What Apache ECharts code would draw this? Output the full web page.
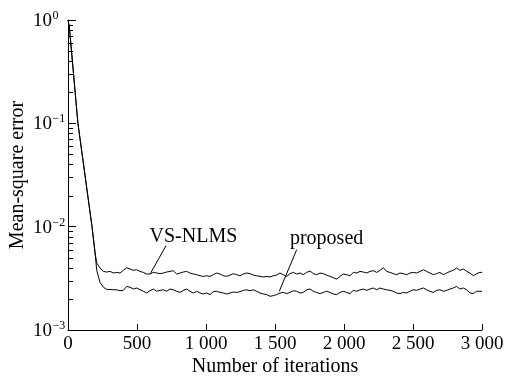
<!DOCTYPE html>
<html>
<head>
<meta charset="utf-8">
<script src="https://cdn.jsdelivr.net/npm/echarts@6/dist/echarts.min.js"></script>
<style>
  html, body { margin: 0; padding: 0; background: #fff; }
  #chart { width: 509px; height: 376px; }
</style>
</head>
<body>
<div id="chart"></div>
<script>
// Iteration index shared by both learning curves
const iterations = [
  0, 10, 72, 174, 196,
  208, 232, 256, 280, 305, 329, 353, 377, 401, 425,
  450, 474, 498, 522, 546, 570, 594, 619, 643, 667,
  691, 715, 739, 763, 788, 812, 836, 860, 884, 908,
  933, 957, 981, 1005, 1029, 1053, 1077, 1102, 1126, 1150,
  1174, 1198, 1222, 1246, 1271, 1295, 1319, 1343, 1367, 1391,
  1416, 1440, 1464, 1488, 1512, 1536, 1560, 1585, 1609, 1633,
  1657, 1681, 1705, 1729, 1754, 1778, 1802, 1826, 1850, 1874,
  1899, 1923, 1947, 1971, 1995, 2019, 2043, 2068, 2092, 2116,
  2140, 2164, 2188, 2212, 2237, 2261, 2285, 2309, 2333, 2357,
  2382, 2406, 2430, 2454, 2478, 2502, 2526, 2551, 2575, 2599,
  2623, 2647, 2671, 2695, 2720, 2744, 2768, 2792, 2816, 2840,
  2865, 2889, 2913, 2937, 2961, 2985, 3000
];

// Mean-square error of VS-NLMS
const vsNlms = [
  1.0, 0.85, 0.1, 0.01, 0.0056,
  0.00445, 0.00398, 0.00369, 0.00364, 0.00369, 0.00356, 0.00361, 0.00356, 0.00378, 0.00400,
  0.00389, 0.00378, 0.00383, 0.00369, 0.00361, 0.00348, 0.00348, 0.00361, 0.00356, 0.00351,
  0.00356, 0.00364, 0.00369, 0.00375, 0.00348, 0.00356, 0.00364, 0.00369, 0.00356, 0.00348,
  0.00343, 0.00335, 0.00330, 0.00335, 0.00330, 0.00343, 0.00356, 0.00348, 0.00335, 0.00330,
  0.00340, 0.00351, 0.00343, 0.00335, 0.00348, 0.00356, 0.00351, 0.00340, 0.00335, 0.00330,
  0.00326, 0.00330, 0.00326, 0.00335, 0.00340, 0.00356, 0.00343, 0.00330, 0.00351, 0.00361,
  0.00348, 0.00356, 0.00343, 0.00361, 0.00372, 0.00351, 0.00343, 0.00356, 0.00351, 0.00340,
  0.00330, 0.00321, 0.00311, 0.00330, 0.00348, 0.00343, 0.00335, 0.00361, 0.00356, 0.00369,
  0.00364, 0.00356, 0.00369, 0.00375, 0.00361, 0.00378, 0.00400, 0.00369, 0.00361, 0.00351,
  0.00343, 0.00356, 0.00351, 0.00343, 0.00356, 0.00361, 0.00356, 0.00369, 0.00383, 0.00369,
  0.00356, 0.00343, 0.00351, 0.00361, 0.00343, 0.00356, 0.00369, 0.00378, 0.00398, 0.00378,
  0.00389, 0.00369, 0.00356, 0.00335, 0.00351, 0.00361, 0.00361
];

// Mean-square error of the proposed algorithm
const proposed = [
  1.0, 0.85, 0.1, 0.01, 0.0056,
  0.00378, 0.00289, 0.00260, 0.00247, 0.00247, 0.00245, 0.00245, 0.00240, 0.00242, 0.00264,
  0.00259, 0.00249, 0.00255, 0.00245, 0.00237, 0.00228, 0.00240, 0.00249, 0.00237, 0.00242,
  0.00245, 0.00237, 0.00249, 0.00245, 0.00237, 0.00231, 0.00242, 0.00249, 0.00237, 0.00228,
  0.00237, 0.00228, 0.00223, 0.00228, 0.00220, 0.00235, 0.00237, 0.00231, 0.00228, 0.00223,
  0.00228, 0.00233, 0.00231, 0.00235, 0.00242, 0.00245, 0.00240, 0.00245, 0.00237, 0.00228,
  0.00223, 0.00220, 0.00212, 0.00215, 0.00220, 0.00228, 0.00231, 0.00225, 0.00231, 0.00240,
  0.00237, 0.00228, 0.00231, 0.00245, 0.00249, 0.00237, 0.00231, 0.00225, 0.00231, 0.00237,
  0.00231, 0.00223, 0.00220, 0.00231, 0.00237, 0.00231, 0.00225, 0.00242, 0.00237, 0.00245,
  0.00249, 0.00242, 0.00249, 0.00255, 0.00245, 0.00255, 0.00249, 0.00245, 0.00242, 0.00237,
  0.00228, 0.00225, 0.00231, 0.00228, 0.00237, 0.00245, 0.00242, 0.00249, 0.00255, 0.00245,
  0.00237, 0.00231, 0.00242, 0.00245, 0.00237, 0.00242, 0.00249, 0.00255, 0.00264, 0.00249,
  0.00255, 0.00245, 0.00228, 0.00225, 0.00237, 0.00237, 0.00237
];

// Axis tick labels
const xTickLabels = ['0', '500', '1 000', '1 500', '2 000', '2 500', '3 000'];
const yTickValues = [1, 0.1, 0.01, 0.001];
const yExponents = ['0', '\u22121', '\u22122', '\u22123'];
const minorTickValues = [
  0.002, 0.003, 0.004, 0.005, 0.006, 0.007, 0.008, 0.009,
  0.02, 0.03, 0.04, 0.05, 0.06, 0.07, 0.08, 0.09,
  0.2, 0.3, 0.4, 0.5, 0.6, 0.7, 0.8, 0.9
];

// Curve annotations: [iteration, mse] anchors
const vsNote = { text: 'VS-NLMS', at: [909, 0.0080], from: [599, 0.00356], to: [710, 0.00654] };
const propNote = { text: 'proposed', at: [1874, 0.00765], from: [1531, 0.00237], to: [1657, 0.00598] };

const FONT = '"Liberation Serif", "Times New Roman", serif';
const BLACK = '#000';

const chart = echarts.init(document.getElementById('chart'), null, { renderer: 'canvas' });

function noteMarks(note) {
  return {
    markLine: {
      silent: true,
      symbol: 'none',
      animation: false,
      lineStyle: { color: BLACK, width: 1, type: 'solid' },
      label: { show: false },
      data: [[{ coord: note.from }, { coord: note.to }]]
    },
    markPoint: {
      silent: true,
      animation: false,
      symbol: 'circle',
      symbolSize: 0,
      label: {
        show: true,
        position: 'inside',
        formatter: note.text,
        color: BLACK,
        fontFamily: FONT,
        fontSize: 20
      },
      data: [{ coord: note.at }]
    }
  };
}

function curve(name, values, note) {
  return Object.assign({
    name: name,
    type: 'line',
    data: iterations.map((x, i) => [x, values[i]]),
    showSymbol: false,
    symbol: 'none',
    lineStyle: { color: BLACK, width: 1 },
    animation: false,
    z: 2
  }, noteMarks(note));
}

chart.setOption({
  animation: false,
  backgroundColor: '#fff',
  grid: { left: 68, right: 27, top: 20, bottom: 46, containLabel: false, outerBoundsMode: 'none' },
  xAxis: {
    type: 'value',
    min: 0,
    max: 3000,
    interval: 500,
    name: 'Number of iterations',
    nameLocation: 'middle',
    nameGap: 27,
    nameMoveOverlap: false,
    nameTextStyle: { color: BLACK, fontFamily: FONT, fontSize: 20 },
    axisLine: { show: true, onZero: false, lineStyle: { color: BLACK, width: 1 } },
    axisTick: { show: true, inside: true, length: 6, lineStyle: { color: BLACK } },
    axisLabel: {
      color: BLACK, fontFamily: FONT, fontSize: 19, margin: 5,
      formatter: (v) => xTickLabels[Math.round(v / 500)]
    },
    splitLine: { show: false }
  },
  yAxis: {
    type: 'log',
    logBase: 10,
    min: 0.001,
    max: 1,
    name: 'Mean-square error',
    nameLocation: 'middle',
    nameGap: 40,
    nameRotate: 90,
    nameMoveOverlap: false,
    nameTextStyle: { color: BLACK, fontFamily: FONT, fontSize: 20 },
    axisLine: { show: true, lineStyle: { color: BLACK, width: 1 } },
    axisTick: { show: true, inside: true, length: 8, lineStyle: { color: BLACK } },
    axisLabel: { show: false },
    splitLine: { show: false }
  },
  series: [
    curve('VS-NLMS', vsNlms, vsNote),
    curve('proposed', proposed, propNote),
    {
      // minor decade ticks (2..9) on the log axis
      name: 'minor ticks',
      type: 'custom',
      silent: true,
      animation: false,
      clip: false,
      z: 3,
      data: minorTickValues.map(v => [0, v]),
      renderItem: (params, api) => {
        const p = api.coord([0, api.value(1)]);
        const y = Math.round(p[1]) + 0.5;
        return {
          type: 'line',
          shape: { x1: p[0], y1: y, x2: p[0] + 5, y2: y },
          style: { stroke: BLACK, lineWidth: 1 }
        };
      }
    },
    {
      // power-of-ten labels: "10" with a raised exponent
      name: 'decade labels',
      type: 'custom',
      silent: true,
      animation: false,
      clip: false,
      z: 3,
      data: yTickValues.map((v, i) => [0, v, i]),
      renderItem: (params, api) => {
        const p = api.coord([0, api.value(1)]);
        const left = p[0] - 35;
        return {
          type: 'group',
          children: [
            {
              type: 'text',
              style: {
                text: '10', x: left, y: p[1] + 1,
                align: 'left', verticalAlign: 'middle',
                fontFamily: FONT, fontSize: 19, fill: BLACK
              }
            },
            {
              type: 'text',
              style: {
                text: yExponents[api.value(2)], x: left + 19.5, y: p[1] - 4,
                align: 'left', verticalAlign: 'middle',
                fontFamily: FONT, fontSize: 12, fill: BLACK
              }
            }
          ]
        };
      }
    }
  ]
});
</script>
</body>
</html>
